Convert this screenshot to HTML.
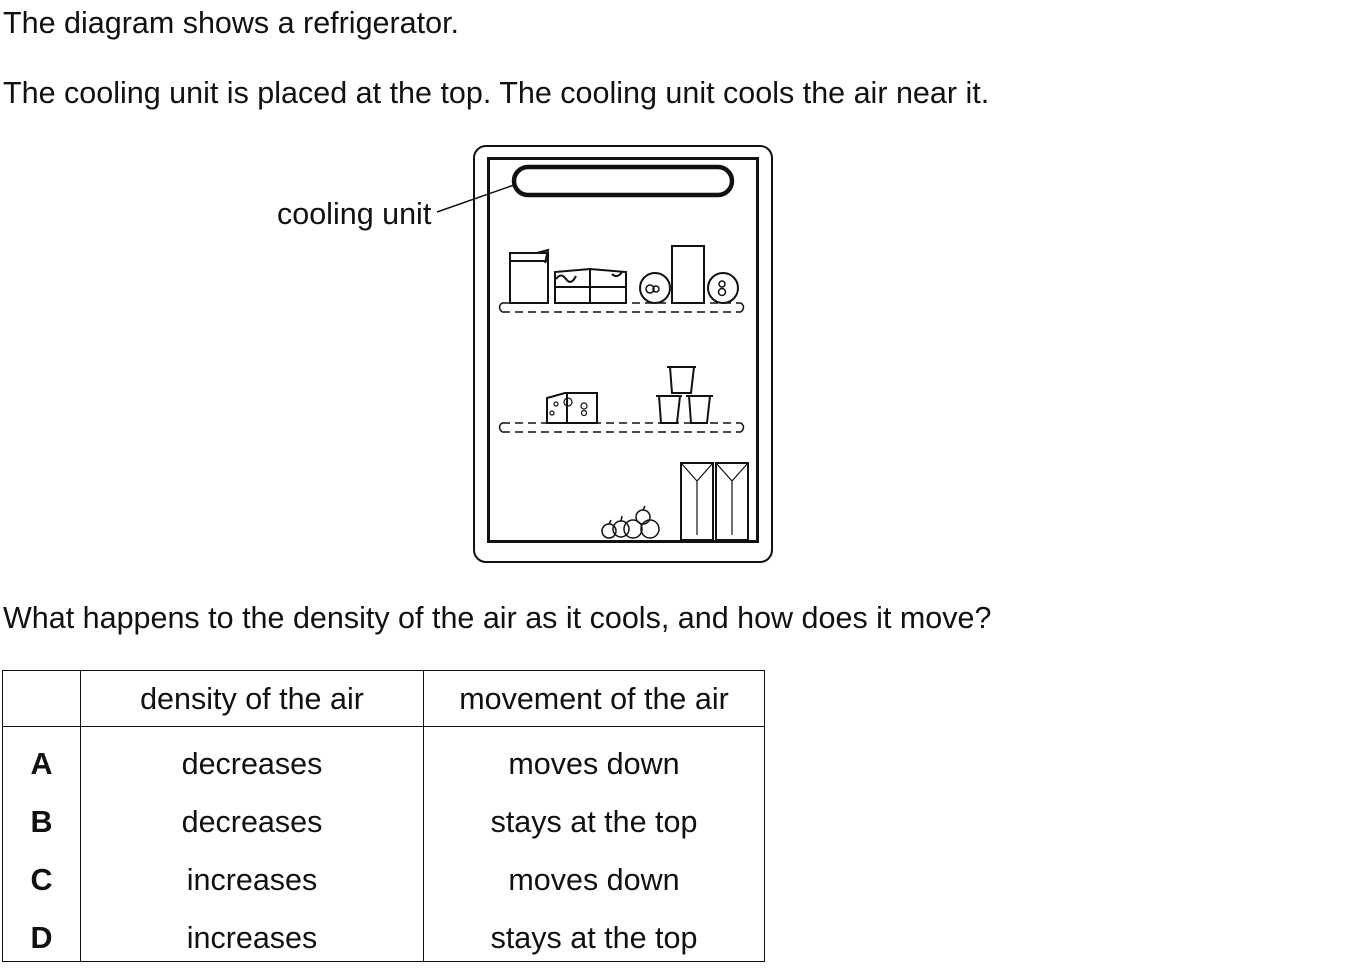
<!DOCTYPE html>
<html><head><meta charset="utf-8"><style>
body{margin:0;width:1354px;height:971px;background:#fff;font-family:"Liberation Sans",Arial,sans-serif;color:#111;position:relative;overflow:hidden}
.t{position:absolute;font-size:30.5px;white-space:nowrap;line-height:1}
table{position:absolute;left:2px;top:670px;border-collapse:collapse;font-size:30.5px}
td{border-left:1.5px solid #111;border-right:1.5px solid #111;text-align:center;vertical-align:top;padding:22px 0 0 0;height:36px;line-height:30px;box-sizing:content-box}
tr.h td{border-top:1.5px solid #111;border-bottom:1.5px solid #111;height:55px;padding:0;vertical-align:middle}
tr.l td{border-bottom:1.5px solid #111;height:38px}
</style></head><body>
<div class="t" style="left:3px;top:8px">The diagram shows a refrigerator.</div>
<div class="t" style="left:3px;top:78px">The cooling unit is placed at the top. The cooling unit cools the air near it.</div>
<div class="t" style="left:277px;top:199px">cooling unit</div>
<svg style="position:absolute;left:0;top:0" width="1354" height="600" fill="none" stroke="#111">
<rect x="474" y="146" width="298" height="416" rx="12" stroke-width="2"/>
<rect x="488.5" y="158.5" width="269" height="383" stroke-width="3"/>
<rect x="514" y="167" width="218" height="28" rx="14" stroke-width="4.5"/>
<line x1="437" y1="212" x2="514" y2="185" stroke-width="1.5"/>
<g stroke-dasharray="8 5" stroke-width="1.5"><path d="M502 303 H741 M502 312 H741"/></g>
<path d="M502 303 Q497 307 502 312 M741 303 Q746 307 741 312" stroke-width="1.5"/>
<g stroke-dasharray="8 5" stroke-width="1.5"><path d="M502 423 H741 M502 432 H741"/></g>
<path d="M502 423 Q497 427 502 432 M741 423 Q746 427 741 432" stroke-width="1.5"/>
<g stroke-width="2">
<path d="M510 303 V253 H548 V303 Z M510 261 H548 M537 253 L548 250 L545 263"/>
<path d="M555 303 V272 L590 269 L626 272 V303 Z M555 287 H626 M590 269 V303 M556 279 q5 -7 10 0 q5 7 10 -3 M612 274 q5 5 10 -2"/>
<circle cx="655" cy="288" r="15"/><circle cx="650" cy="289" r="4" stroke-width="1.5"/><circle cx="656" cy="289" r="3" stroke-width="1.5"/>
<rect x="672" y="246" width="32" height="57"/>
<circle cx="723" cy="288" r="15"/><circle cx="722" cy="284" r="3" stroke-width="1.5"/><circle cx="722" cy="292" r="3.5" stroke-width="1.5"/>
<path d="M547 423 V398 L565 393 H597 V423 Z M567 393 V423"/>
<circle cx="568" cy="402" r="4" stroke-width="1.2"/><circle cx="556" cy="404" r="2" stroke-width="1.2"/><circle cx="584" cy="406" r="3" stroke-width="1.2"/><circle cx="584" cy="413" r="2.5" stroke-width="1.2"/><circle cx="552" cy="413" r="2" stroke-width="1.2"/>
<path d="M667 367 H696 M670 367 L672 393 H691 L694 367 M656 396 H682 M659 396 L661 423 H677 L680 396 M686 396 H713 M689 396 L691 423 H707 L710 396"/>
<rect x="681" y="463" width="32" height="77"/><rect x="716" y="463" width="32" height="77"/>
<path d="M681 463 L697 481 L713 463 M697 481 V535 M716 463 L732 481 L748 463 M732 481 V535" stroke-width="1.2"/>
<g stroke-width="1.5"><circle cx="609" cy="531" r="7"/><circle cx="621" cy="529" r="8"/><circle cx="633" cy="529" r="9"/><circle cx="650" cy="529" r="9"/><circle cx="643" cy="517" r="7"/><path d="M609 524 l2 -4 M643 510 l2 -4 M621 521 l1 -5"/></g>
</g>
</svg>
<div class="t" style="left:3px;top:603px">What happens to the density of the air as it cools, and how does it move?</div>
<table>
<tr class="h"><td style="width:77px"></td><td style="width:342px">density of the air</td><td style="width:340px">movement of the air</td></tr>
<tr><td><b>A</b></td><td>decreases</td><td>moves down</td></tr>
<tr><td><b>B</b></td><td>decreases</td><td>stays at the top</td></tr>
<tr><td><b>C</b></td><td>increases</td><td>moves down</td></tr>
<tr class="l"><td><b>D</b></td><td>increases</td><td>stays at the top</td></tr>
</table>
</body></html>
